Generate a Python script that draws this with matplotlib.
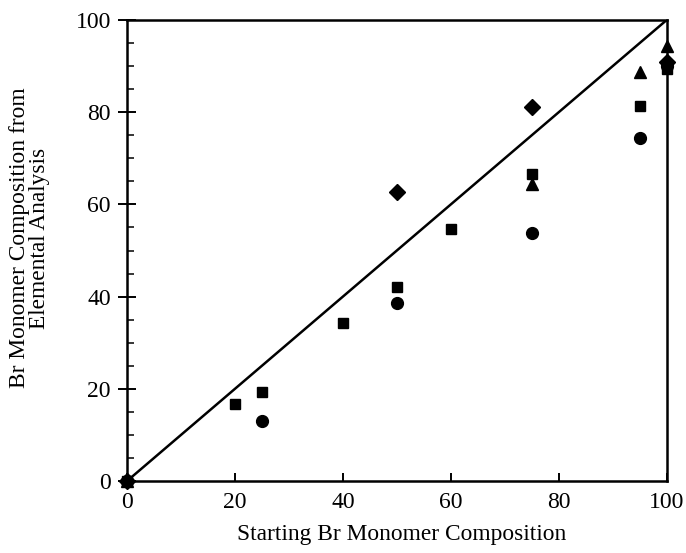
import numpy as np
from matplotlib import pyplot as plt
from matplotlib.ticker import MultipleLocator

# data (x: starting Br composition, y: from elemental analysis)
circle_x = [0, 25, 50, 75, 95, 100]
circle_y = [0, 13.1, 38.6, 53.8, 74.4, 90.0]

square_x = [0, 20, 25, 40, 50, 60, 75, 95, 100]
square_y = [0, 16.7, 19.4, 34.3, 42.1, 54.7, 66.6, 81.3, 89.3]

triangle_x = [0, 75, 95, 100]
triangle_y = [0, 64.4, 88.7, 94.4]

diamond_x = [0, 50, 75, 100]
diamond_y = [0, 62.7, 81.1, 90.8]

ideal = [0, 100]

plt.rcParams['font.family'] = ['Liberation Serif', 'DejaVu Serif']

fig = plt.figure(figsize=(6.86, 5.53), dpi=100)
ax = fig.add_axes([0.185, 0.130, 0.787, 0.834])

ax.plot(ideal, ideal, color='black', lw=1.8, zorder=2)

ax.plot(circle_x, circle_y, 'o', color='black', ms=8.5, clip_on=False, zorder=3)
ax.plot(square_x, square_y, 's', color='black', ms=7, clip_on=False, zorder=3)
ax.plot(triangle_x, triangle_y, '^', color='black', ms=9, clip_on=False, zorder=3)
ax.plot(diamond_x, diamond_y, 'D', color='black', ms=8.5, clip_on=False, zorder=4)

ax.set_xlim(0, 100)
ax.set_ylim(0, 100)
ax.xaxis.set_major_locator(MultipleLocator(20))
ax.yaxis.set_major_locator(MultipleLocator(20))
ax.yaxis.set_minor_locator(MultipleLocator(5))

ax.tick_params(axis='x', which='major', direction='in', length=6, width=1.4,
               labelsize=17, pad=8, top=False)
ax.tick_params(axis='y', which='major', direction='inout', length=13, width=1.4,
               labelsize=17, pad=5, right=False)
ax.tick_params(axis='y', which='minor', direction='in', length=5, width=1.1, right=False)

for sp in ax.spines.values():
    sp.set_linewidth(1.8)

ax.set_xlabel('Starting Br Monomer Composition', fontsize=16.8, labelpad=8)
ax.xaxis.label.set_x(0.509)
ax.set_ylabel('Br Monomer Composition from\nElemental Analysis', fontsize=16.8,
              linespacing=0.95)
ax.yaxis.set_label_coords(-0.143, 0.527)

fig.savefig('out.png', dpi=100)
